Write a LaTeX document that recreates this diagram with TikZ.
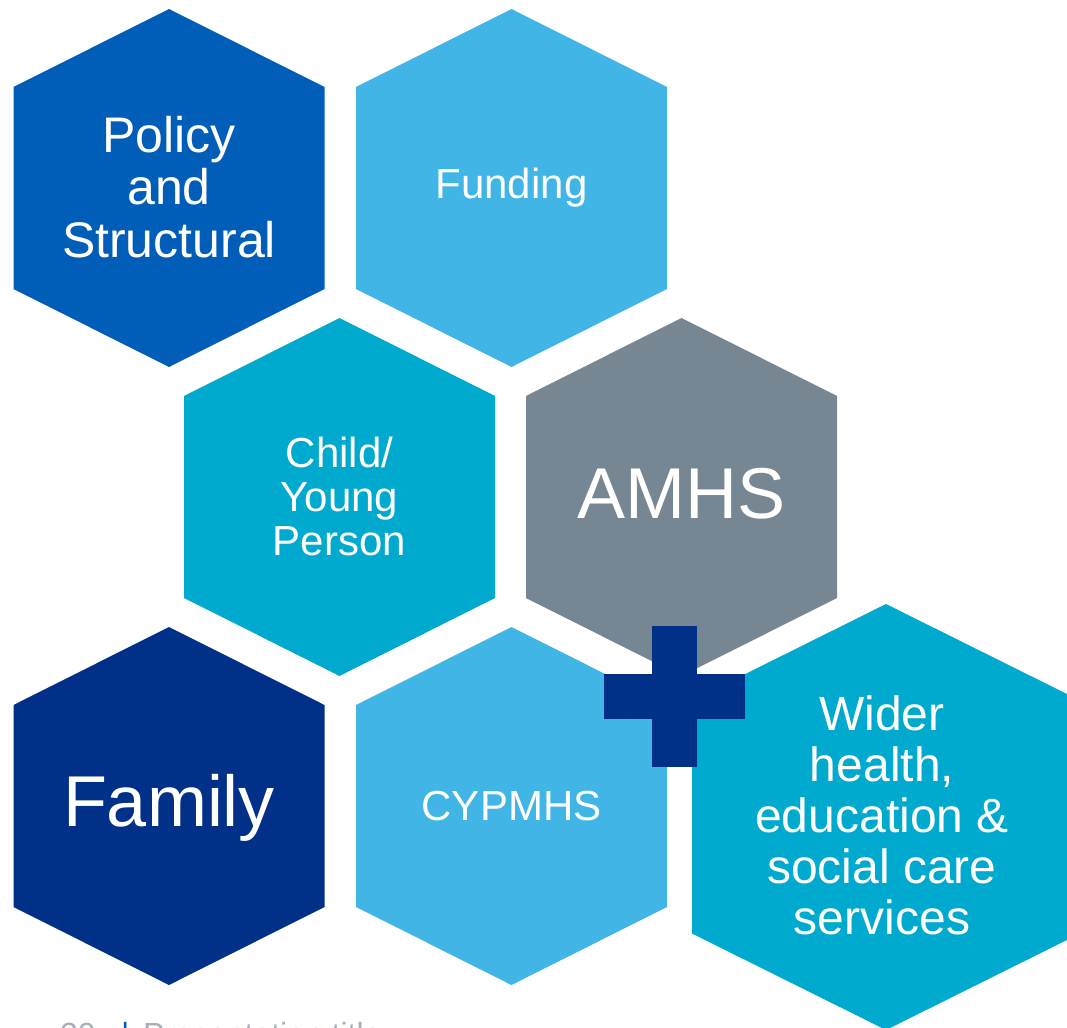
\documentclass[tikz,border=0pt]{standalone}
\usepackage{fontspec}
\setmainfont{Liberation Sans}
\definecolor{nhsblue}{HTML}{005EB8}
\definecolor{nhslightblue}{HTML}{41B6E6}
\definecolor{nhsaqua}{HTML}{00A9CE}
\definecolor{nhsgrey}{HTML}{768692}
\definecolor{nhsdark}{HTML}{003087}
\definecolor{footgrey}{HTML}{A7B0BA}
% hexagon cell: centre x, centre y, half width, half height, slant height, colour
\newcommand\hexcell[6]{%
  \fill[#6] (#1,#2-#4) -- (#1+#3,#2-#4+#5) -- (#1+#3,#2+#4-#5)
    -- (#1,#2+#4) -- (#1-#3,#2+#4-#5) -- (#1-#3,#2-#4+#5) -- cycle;}
\tikzset{
  label/.style={text=white, align=center, inner sep=0pt},
  mid/.style={label, font=\fontsize{42}{44}\selectfont},
  big/.style={label, font=\fontsize{72}{76}\selectfont},
  foot/.style={anchor=base west, inner sep=0pt, font=\fontsize{32}{34}\selectfont},
}
\begin{document}
\begin{tikzpicture}[x=1pt,y=-1pt]
\useasboundingbox (0,0) rectangle (1067,1027);
% honeycomb
\hexcell{169}{188}{155.5}{179}{78}{nhsblue}
\hexcell{511.5}{188}{155.5}{179}{78}{nhslightblue}
\hexcell{339.5}{497}{155.5}{179}{78}{nhsaqua}
\hexcell{681.5}{497}{155.5}{179}{78}{nhsgrey}
\hexcell{169}{806}{155.5}{179}{78}{nhsdark}
\hexcell{511.5}{806}{155.5}{179}{78}{nhslightblue}
\hexcell{886}{817}{194}{213}{96.5}{nhsaqua}
% plus sign
\fill[nhsdark] (652,626) rectangle (697,767);
\fill[nhsdark] (604,674) rectangle (745,719);
% cell labels
\node[label, font=\fontsize{50}{52.5}\selectfont] (policy) at (169,187) {Policy\\and\\Structural};
\node[mid] (funding) at (511.5,188) {Funding};
\node[mid] (child) at (339.5,496) {Child/\\Young\\Person};
\node[big] (amhs) at (681.5,494) {AMHS};
\node[big] (family) at (169,808) {Family};
\node[mid] (cypmhs) at (511.5,806) {CYPMHS};
\node[label, font=\fontsize{48}{51}\selectfont] (wider) at (882,815)
  {Wider\\health,\\education \&\\social care\\services};
% footer, running off the lower edge
\node[foot, text=footgrey] (pagenum) at (60,1045) {20};
\node[foot, text=nhsblue] (bar) at (121,1045) {|};
\node[foot, text=footgrey] (title) at (143,1045) {Presentation title};
\end{tikzpicture}
\end{document}
